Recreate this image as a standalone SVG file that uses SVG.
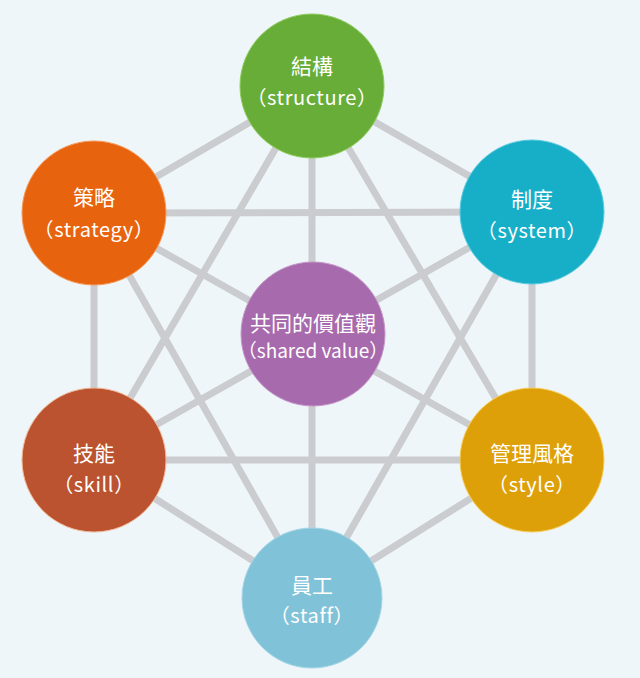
<svg xmlns="http://www.w3.org/2000/svg" width="640" height="678" viewBox="0 0 640 678">
<style>
.bg{fill:#eef6fa}
.edge{stroke:#cbcccf;stroke-width:7;fill:none}
.c{stroke-width:1}
.t1{font-family:"Noto Sans CJK TC","Noto Sans CJK SC",sans-serif;font-size:21px;fill:#ffffff;text-anchor:middle}
.t2{font-family:"Noto Sans CJK TC","Noto Sans",sans-serif;font-size:20px;letter-spacing:0.6px;fill:#ffffff;text-anchor:middle}
.t3{font-family:"Noto Sans CJK TC","Noto Sans",sans-serif;font-size:19px;letter-spacing:0px;fill:#ffffff;text-anchor:middle}
</style>
<rect class="bg" x="0" y="0" width="640" height="678"/>
<g id="connectors">
<line class="edge" x1="312" y1="86" x2="94" y2="213"/>
<line class="edge" x1="312" y1="86" x2="532" y2="212"/>
<line class="edge" x1="312" y1="86" x2="94" y2="460"/>
<line class="edge" x1="312" y1="86" x2="532" y2="460"/>
<line class="edge" x1="312" y1="86" x2="312" y2="598"/>
<line class="edge" x1="94" y1="213" x2="532" y2="212"/>
<line class="edge" x1="94" y1="213" x2="94" y2="460"/>
<line class="edge" x1="94" y1="213" x2="532" y2="460"/>
<line class="edge" x1="94" y1="213" x2="312" y2="598"/>
<line class="edge" x1="532" y1="212" x2="532" y2="460"/>
<line class="edge" x1="532" y1="212" x2="94" y2="460"/>
<line class="edge" x1="532" y1="212" x2="312" y2="598"/>
<line class="edge" x1="94" y1="460" x2="532" y2="460"/>
<line class="edge" x1="94" y1="460" x2="312" y2="598"/>
<line class="edge" x1="532" y1="460" x2="312" y2="598"/>
</g>
<g id="structure">
<circle class="c" cx="312" cy="86" r="72" fill="#67ad37" stroke="#8fcc5e"/>
<text class="t1" x="312" y="74">結構</text>
<text class="t2" x="312" y="105">（structure）</text>
</g>
<g id="strategy">
<circle class="c" cx="94" cy="213" r="72" fill="#e8630e" stroke="#f59a5a"/>
<text class="t1" x="94" y="205">策略</text>
<text class="t2" x="94" y="237">（strategy）</text>
</g>
<g id="system">
<circle class="c" cx="532" cy="212" r="72" fill="#17afc8" stroke="#5ccbe0"/>
<text class="t1" x="532" y="207">制度</text>
<text class="t2" x="532" y="238">（system）</text>
</g>
<g id="shared-value">
<circle class="c" cx="313" cy="334" r="72" fill="#a76aad" stroke="#c596c9"/>
<text class="t1" x="313" y="331">共同的價值觀</text>
<text class="t3" x="313" y="358">（shared value）</text>
</g>
<g id="skill">
<circle class="c" cx="94" cy="460" r="72" fill="#bb5330" stroke="#f0b898"/>
<text class="t1" x="94" y="461">技能</text>
<text class="t2" x="94" y="492">（skill）</text>
</g>
<g id="style">
<circle class="c" cx="532" cy="460" r="72" fill="#dea008" stroke="#f5cf60"/>
<text class="t1" x="532" y="461">管理風格</text>
<text class="t2" x="532" y="492">（style）</text>
</g>
<g id="staff">
<circle class="c" cx="312" cy="598" r="70" fill="#80c2d8" stroke="#a6d6e6"/>
<text class="t1" x="312" y="593">員工</text>
<text class="t2" x="312" y="623">（staff）</text>
</g>
</svg>
